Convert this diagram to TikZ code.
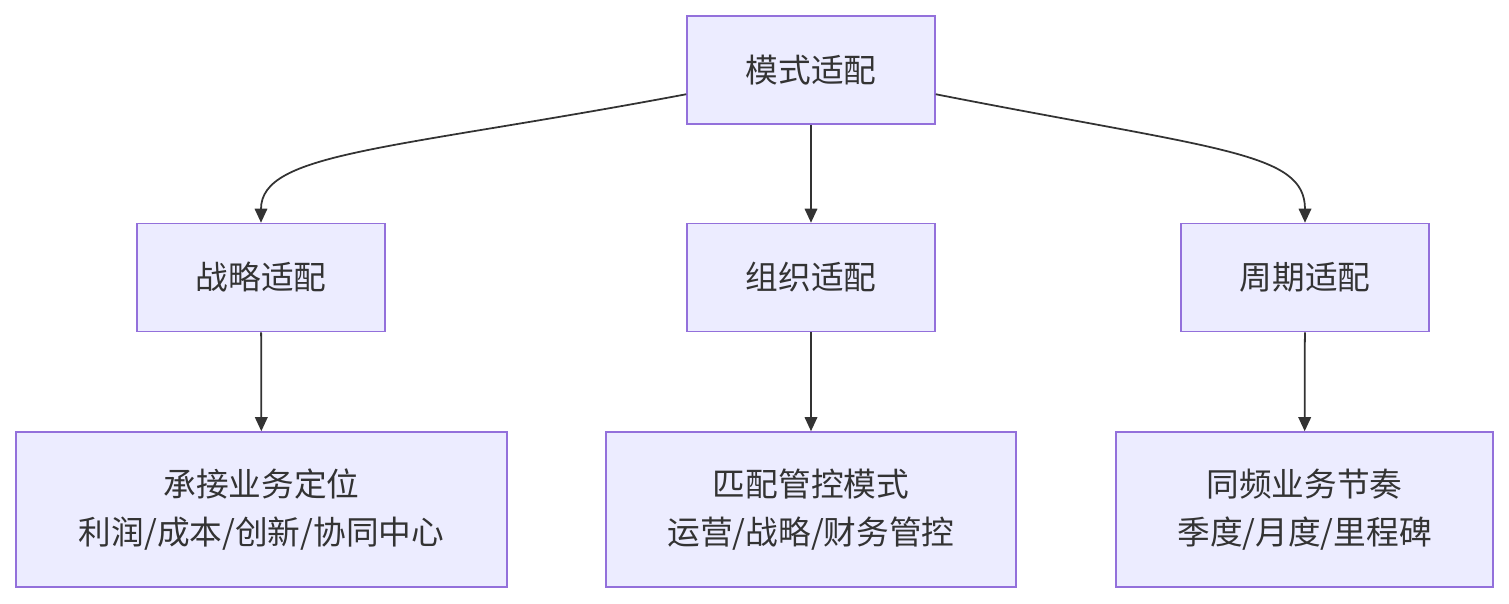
\documentclass[tikz,border=0pt]{standalone}
\usepackage{fontspec}
\setmainfont{Noto Sans CJK SC}
\usetikzlibrary{arrows.meta,positioning}
\definecolor{boxfill}{HTML}{ECECFF}
\definecolor{boxline}{HTML}{9370DB}
\definecolor{inkgray}{HTML}{333333}

\begin{document}
\begin{tikzpicture}[
    x=0.02cm, y=-0.02cm,
    font=\fontsize{18.6}{27}\selectfont,
    box/.style={draw=boxline, fill=boxfill, line width=0.9pt, text=inkgray, align=center, minimum width=4.96cm, minimum height=2.16cm},
    leaf/.style={box, minimum height=3.1cm},
    link/.style={-{Triangle[length=0.28cm, width=0.25cm]}, line width=1pt, inkgray}
]
\useasboundingbox (0,0) rectangle (1509,604);

% Root
\node[box] (mode) at (811,70) {模式适配};

% Second level
\node[box] (strategy) at (261,277.5) {战略适配};
\node[box] (org) at (811,277.5) {组织适配};
\node[box] (cycle) at (1305,277.5) {周期适配};

% Leaves
\node[leaf, minimum width=9.82cm] (position) at (261.5,509.5) {承接业务定位\\利润/成本/创新/协同中心};
\node[leaf, minimum width=8.2cm] (control) at (811,509.5) {匹配管控模式\\运营/战略/财务管控};
\node[leaf, minimum width=7.54cm] (rhythm) at (1304.5,509.5) {同频业务节奏\\季度/月度/里程碑};

% Edges
\draw[link] (mode.191) .. controls (390,150) and (261,152) .. (strategy.north);
\draw[link] (mode.349) .. controls (1220,150) and (1305,152) .. (cycle.north);
\draw[link] (mode) -- (org);
\draw[link] (strategy) -- (position);
\draw[link] (org) -- (control);
\draw[link] (cycle) -- (rhythm);

\end{tikzpicture}
\end{document}
